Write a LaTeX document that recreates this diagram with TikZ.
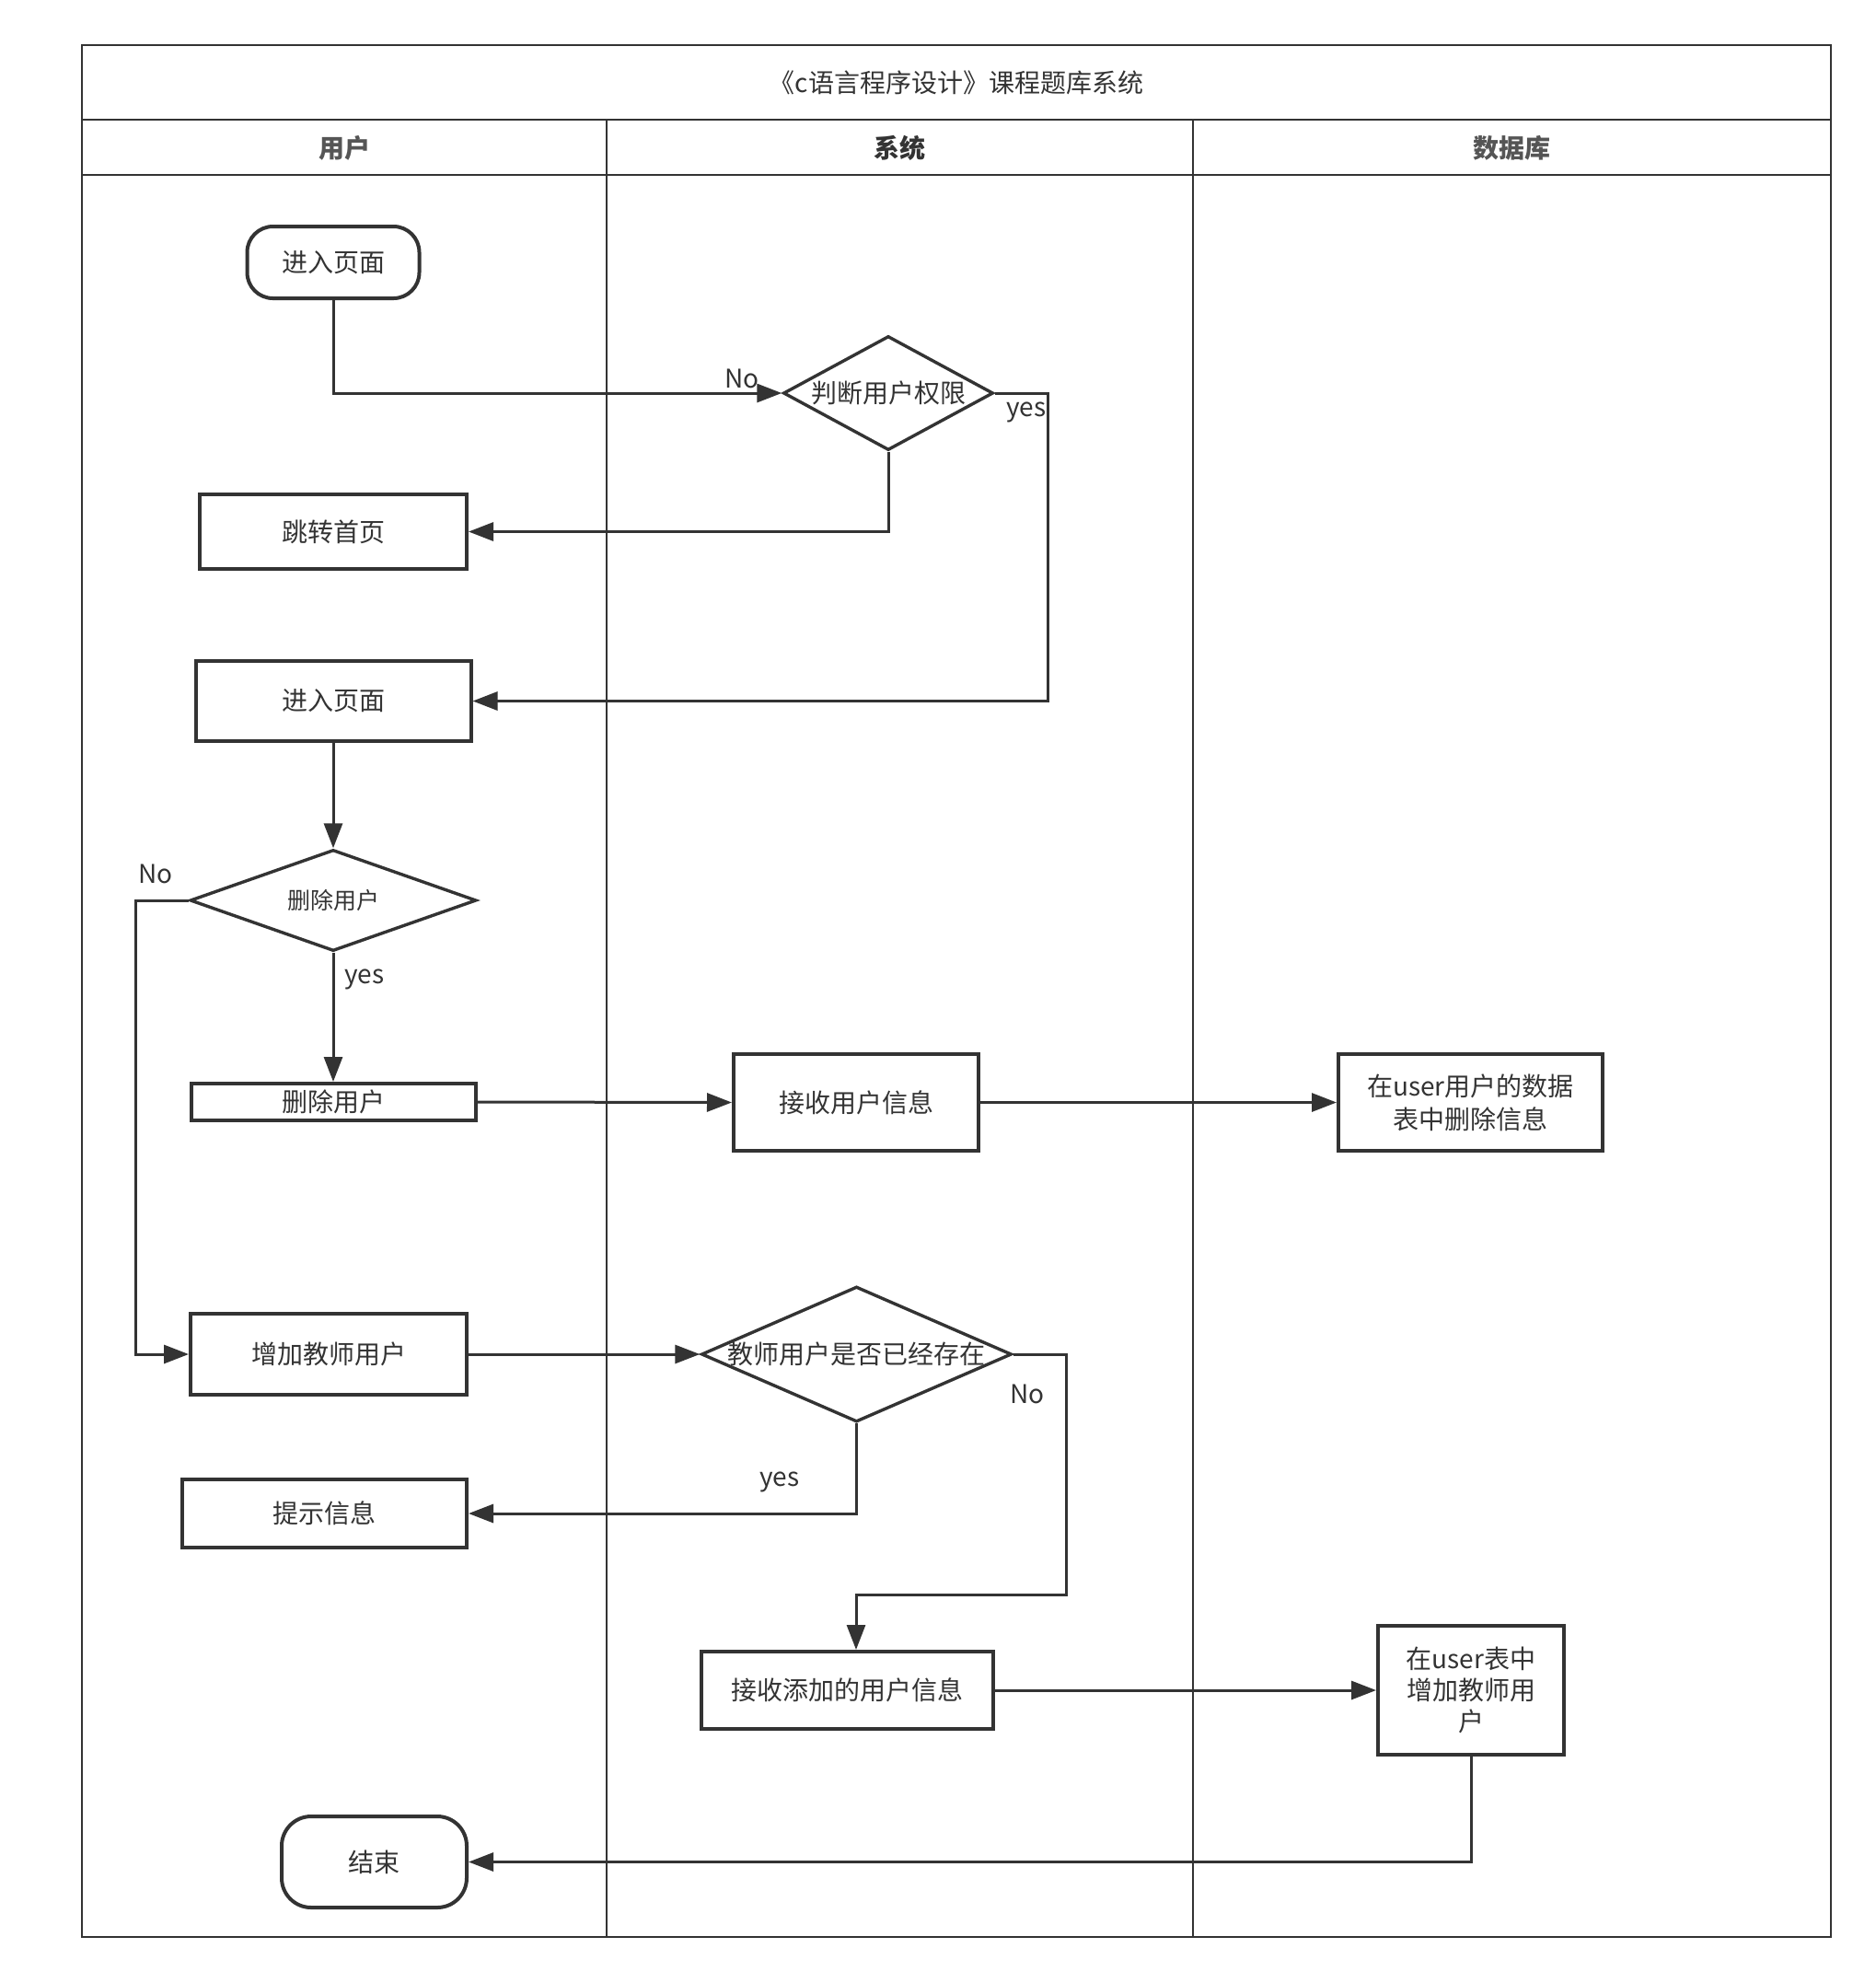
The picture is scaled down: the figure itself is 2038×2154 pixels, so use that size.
\documentclass[tikz,border=0pt]{standalone}
\usepackage{fontspec}
\setmainfont{Noto Sans CJK SC}
\usetikzlibrary{shapes.geometric,arrows.meta}
\definecolor{ink}{HTML}{333333}
\definecolor{headink}{HTML}{555555}
\begin{document}
\begin{tikzpicture}[x=0.5pt,y=-0.5pt,
  font=\fontsize{14pt}{17.5pt}\selectfont, text=ink,
  box/.style={draw=ink, line width=2pt, rectangle, inner sep=0pt, align=center},
  term/.style={box, rounded corners=14pt},
  decision/.style={draw=ink, line width=1.7pt, diamond, inner sep=0pt},
  flow/.style={draw=ink, line width=1.5pt, -{Triangle[length=13.5pt,width=10pt]}},
  lane/.style={draw=ink, line width=0.7pt},
  rule/.style={draw=ink, line width=1.2pt},
  tag/.style={inner sep=0pt}
]
\useasboundingbox (0,0) rectangle (2038,2154);

% swimlane frame
\draw[rule] (89,49) rectangle (1989,2104);
\draw[rule] (89,130) -- (1989,130);
\draw[rule] (89,190) -- (1989,190);
\draw[lane] (659,130) -- (659,2104);
\draw[lane] (1296,130) -- (1296,2104);

\node (title) at (1039,90) {《c语言程序设计》课程题库系统};
\node[font=\fontsize{14pt}{17pt}\selectfont\bfseries, text=headink] (hUser) at (374,161) {用户};
\node[font=\fontsize{14pt}{17pt}\selectfont\bfseries, text=ink] (hSys) at (977,161) {系统};
\node[font=\fontsize{14pt}{17pt}\selectfont\bfseries, text=headink] (hDb) at (1642,161) {数据库};

% flow nodes
\node[term, minimum width=93.5pt, minimum height=39pt] (start) at (362,285) {进入页面};
\node[decision, minimum width=114pt, minimum height=62pt,
      label={center:判断用户权限}] (d1) at (965,427) {};
\node[box, minimum width=145pt, minimum height=40.5pt] (jump) at (362,577.5) {跳转首页};
\node[box, minimum width=149.5pt, minimum height=43.5pt] (enter) at (362,761.5) {进入页面};
\node[decision, minimum width=155.5pt, minimum height=55pt,
      label={[font=\fontsize{12.5pt}{15pt}\selectfont]center:删除用户}] (d2) at (362,978) {};
\node[box, minimum width=154.5pt, minimum height=20pt] (del) at (362,1197) {删除用户};
\node[box, minimum width=133pt, minimum height=52.5pt] (recv) at (930,1197.5) {接收用户信息};
\node[box, minimum width=143.5pt, minimum height=52.5pt, font=\fontsize{14pt}{18pt}\selectfont]
      (dbdel) at (1597.5,1197.5) {在user用户的数据\\表中删除信息};
\node[box, minimum width=150pt, minimum height=44pt] (addt) at (357,1471) {增加教师用户};
\node[decision, minimum width=168.5pt, minimum height=73.5pt,
      label={center:教师用户是否已经存在}] (d3) at (930.5,1471) {};
\node[box, minimum width=154.5pt, minimum height=37pt] (tip) at (352.5,1644) {提示信息};
\node[box, minimum width=158.5pt, minimum height=42pt] (recvadd) at (920.5,1836) {接收添加的用户信息};
\node[box, minimum width=101pt, minimum height=70pt, font=\fontsize{14pt}{17pt}\selectfont]
      (dbadd) at (1598,1836) {在user表中\\增加教师用\\户};
\node[term, rounded corners=16pt, minimum width=100.5pt, minimum height=49.5pt] (finish) at (406.5,2022.5) {结束};

% bend points
\coordinate (k1) at (1138,427);
\coordinate (k2) at (147,978);
\coordinate (k3) at (1158,1471);
\coordinate (k4) at (1158,1732);
\coordinate (k5) at (930,1732);

% connectors
\draw[flow] (start.south) |- (d1.west);
\draw[flow] (d1.south) |- (jump.east);
\draw[flow] (d1.east) -- (k1) |- (enter.east);
\draw[flow] (enter.south) -- (d2.north);
\draw[flow] (d2.south) -- (del.north);
\draw[flow] (d2.west) -- (k2) |- (addt.west);
\draw[flow] (del.east) -- (recv.west);
\draw[flow] (recv.east) -- (dbdel.west);
\draw[flow] (addt.east) -- (d3.west);
\draw[flow] (d3.south) |- (tip.east);
\draw[flow] (d3.east) -- (k3) -- (k4) -- (k5) -- (k5 |- recvadd.north);
\draw[flow] (recvadd.east) -- (recvadd.east -| dbadd.west);
\draw[flow] (dbadd.south) |- (finish.east);

% branch labels
\node[tag] (l1) at (806,411) {No};
\node[tag] (l2) at (1115,448) {yes};
\node[tag] (l3) at (396,1064) {yes};
\node[tag] (l4) at (169,949) {No};
\node[tag] (l5) at (847,1610) {yes};
\node[tag] (l6) at (1116,1514) {No};
\end{tikzpicture}
\end{document}
